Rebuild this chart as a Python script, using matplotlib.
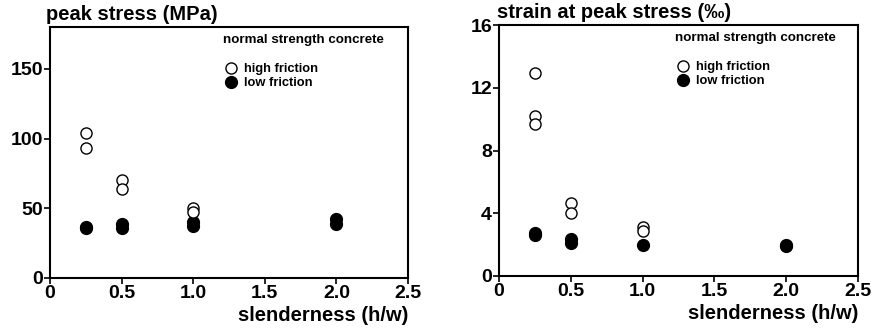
import matplotlib
matplotlib.use("Agg")
import matplotlib.pyplot as plt
from matplotlib.lines import Line2D

plt.rcParams['font.family'] = ['Liberation Sans', 'DejaVu Sans']

# Left panel: peak stress (MPa)
stress_hi_x = [0.25, 0.25, 0.5, 0.5, 1.0, 1.0]
stress_hi_y = [103.8, 93.3, 70.0, 64.0, 50.5, 47.0]
stress_lo_x = [0.25, 0.25, 0.5, 0.5, 1.0, 1.0, 2.0, 2.0]
stress_lo_y = [36.5, 35.5, 39.0, 36.0, 40.0, 37.0, 42.5, 38.5]

# Right panel: strain at peak stress (per mille)
strain_hi_x = [0.25, 0.25, 0.25, 0.5, 0.5, 1.0, 1.0]
strain_hi_y = [12.95, 10.2, 9.7, 4.67, 4.03, 3.14, 2.87]
strain_lo_x = [0.25, 0.25, 0.5, 0.5, 1.0, 2.0, 2.0]
strain_lo_y = [2.76, 2.59, 2.38, 2.12, 1.98, 1.98, 1.90]

xticks = [0, 0.5, 1.0, 1.5, 2.0, 2.5]
xtick_labels = ['0', '0.5', '1.0', '1.5', '2.0', '2.5']
stress_ticks = [0, 50, 100, 150]
strain_ticks = [0, 4, 8, 12, 16]

fig = plt.figure(figsize=(8.8, 3.28), dpi=100)
ax1 = fig.add_axes([50/880, 50/328, 358/880, 251/328])
ax2 = fig.add_axes([499/880, 52/328, 359/880, 251/328])

def style(ax, hx, hy, lx, ly, yticks, ylim, title, title_x, leg_x):
    ax.plot(lx, ly, 'o', ms=8.5, mfc='black', mec='black', mew=1.0, ls='none')
    ax.plot(hx, hy, 'o', ms=8, mfc='white', mec='black', mew=1.0, ls='none')
    ax.set_xlim(0, 2.5)
    ax.set_ylim(*ylim)
    ax.set_xticks(xticks)
    ax.set_xticklabels(xtick_labels)
    ax.set_yticks(yticks)
    ax.tick_params(direction='out', length=4, width=1.2, labelsize=14, pad=1)
    for lab in ax.get_xticklabels() + ax.get_yticklabels():
        lab.set_fontweight('bold')
    for s in ax.spines.values():
        s.set_linewidth(1.5)
    ax.set_xlabel('slenderness (h/w)', fontsize=14.5, fontweight='bold', labelpad=2)
    ax.xaxis.set_label_coords(1.0, -0.11)
    ax.xaxis.label.set_horizontalalignment('right')
    ax.text(title_x, 1.01, title, transform=ax.transAxes, fontsize=14.5,
            fontweight='bold', ha='left', va='bottom')
    ax.text(leg_x, 0.948, 'normal strength concrete', transform=ax.transAxes,
            fontsize=9.6, fontweight='bold', ha='left', va='center')
    handles = [Line2D([], [], marker='o', ls='none', ms=8, mfc='white', mec='black'),
               Line2D([], [], marker='o', ls='none', ms=8.5, mfc='black', mec='black')]
    leg = ax.legend(handles, ['high friction', 'low friction'], loc='upper left',
                    bbox_to_anchor=(leg_x + 0.005, 0.856), frameon=False, fontsize=9.3,
                    handletextpad=0.5, labelspacing=0.15, handlelength=1.0,
                    borderaxespad=0, borderpad=0)
    for t in leg.get_texts():
        t.set_fontweight('bold')

style(ax1, stress_hi_x, stress_hi_y, stress_lo_x, stress_lo_y, stress_ticks,
      (0, 180), 'peak stress (MPa)', -0.01, 0.483)
style(ax2, strain_hi_x, strain_hi_y, strain_lo_x, strain_lo_y, strain_ticks,
      (0, 16), 'strain at peak stress (‰)', -0.005, 0.49)

fig.savefig('out.png', dpi=100)
